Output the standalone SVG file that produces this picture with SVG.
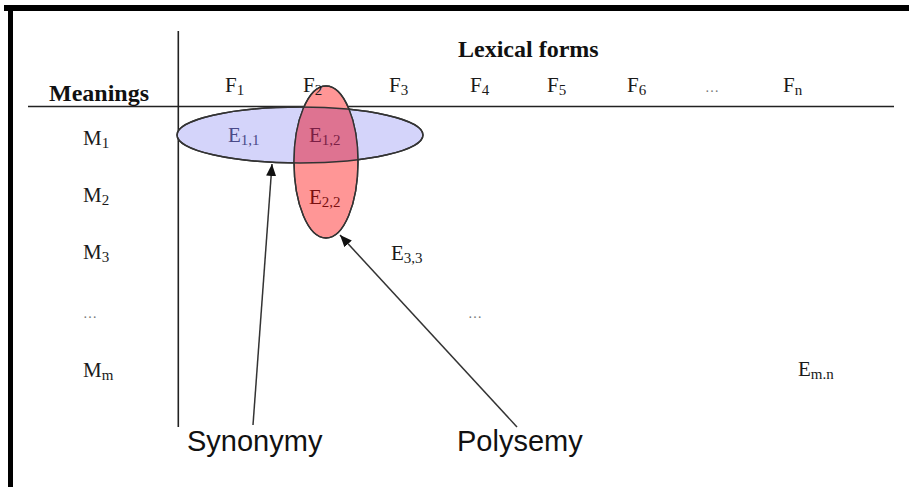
<svg xmlns="http://www.w3.org/2000/svg" width="909" height="487" viewBox="0 0 909 487">
<style>
.hd{font-family:"Liberation Serif","Times New Roman",serif;font-weight:bold;font-size:24px;fill:#111}
.lb{font-family:"Liberation Serif","Times New Roman",serif;font-size:21px;fill:#1a1a1a}
.sub{font-size:15px}
.dots{font-family:"Liberation Serif",serif;font-size:14px;fill:#777}
.cap{font-family:"Liberation Sans",Arial,sans-serif;font-size:29px;fill:#111}
.rule{stroke:#222;stroke-width:1.6;fill:none}
.ell{stroke:#333;stroke-width:1.4}
.arr{stroke:#333;stroke-width:1.5;fill:none;marker-end:url(#ah)}
</style>
<defs>
<marker id="ah" viewBox="0 0 12 10" refX="12" refY="5" markerWidth="12" markerHeight="10" markerUnits="userSpaceOnUse" orient="auto">
<path d="M0,0 L12,5 L0,10 z" fill="#111"/>
</marker>
<clipPath id="redclip"><ellipse cx="326" cy="162" rx="32" ry="76"/></clipPath>
</defs>
<rect x="0" y="0" width="909" height="487" fill="#fff"/>
<g id="frame">
<rect x="4" y="5" width="905" height="6" fill="#000"/>
<rect x="8" y="5" width="5" height="482" fill="#000"/>
</g>
<g id="grid">
<line class="rule" x1="178.3" y1="31" x2="178.3" y2="427"/>
<line class="rule" x1="28" y1="106.5" x2="894" y2="106.5"/>
</g>
<g id="headers">
<text class="hd" x="458" y="57">Lexical forms</text>
<text class="hd" x="49" y="101">Meanings</text>
</g>
<g id="ellipses">
<ellipse id="synonymy-set" class="ell" cx="300" cy="135" rx="123" ry="28" fill="#d4d4fa"/>
<ellipse id="polysemy-set" class="ell" cx="326" cy="162" rx="32" ry="76" fill="#ff9696"/>
<ellipse cx="300" cy="135" rx="123" ry="28" fill="#de7391" clip-path="url(#redclip)"/>
<ellipse cx="300" cy="135" rx="123" ry="28" fill="none" class="ell"/>
<ellipse cx="326" cy="162" rx="32" ry="76" fill="none" class="ell"/>
</g>
<g id="forms">
<text class="lb" x="225" y="92">F<tspan class="sub" dy="3">1</tspan></text>
<text class="lb" x="303" y="92">F<tspan class="sub" dy="3">2</tspan></text>
<text class="lb" x="389" y="92">F<tspan class="sub" dy="3">3</tspan></text>
<text class="lb" x="470" y="92">F<tspan class="sub" dy="3">4</tspan></text>
<text class="lb" x="547" y="92">F<tspan class="sub" dy="3">5</tspan></text>
<text class="lb" x="627" y="92">F<tspan class="sub" dy="3">6</tspan></text>
<text class="dots" x="705" y="92">…</text>
<text class="lb" x="783" y="92">F<tspan class="sub" dy="3">n</tspan></text>
</g>
<g id="meanings">
<text class="lb" x="83" y="145">M<tspan class="sub" dy="3">1</tspan></text>
<text class="lb" x="83" y="202">M<tspan class="sub" dy="3">2</tspan></text>
<text class="lb" x="83" y="259">M<tspan class="sub" dy="3">3</tspan></text>
<text class="dots" x="83" y="318">…</text>
<text class="lb" x="83" y="377">M<tspan class="sub" dy="3">m</tspan></text>
</g>
<g id="entries">
<text class="lb" x="228" y="142" style="fill:#4a4a88">E<tspan class="sub" dy="3">1,1</tspan></text>
<text class="lb" x="309" y="142" style="fill:#7a1f45">E<tspan class="sub" dy="3">1,2</tspan></text>
<text class="lb" x="309" y="204" style="fill:#7a1010">E<tspan class="sub" dy="3">2,2</tspan></text>
<text class="lb" x="391" y="260">E<tspan class="sub" dy="3">3,3</tspan></text>
<text class="dots" x="468" y="318">…</text>
<text class="lb" x="798" y="376">E<tspan class="sub" dy="3">m.n</tspan></text>
</g>
<g id="connectors">
<line class="arr" x1="253" y1="425" x2="272" y2="164"/>
<line class="arr" x1="517" y1="427" x2="340" y2="235"/>
</g>
<g id="labels">
<text class="cap" x="187" y="451">Synonymy</text>
<text class="cap" x="457" y="451">Polysemy</text>
</g>
</svg>
